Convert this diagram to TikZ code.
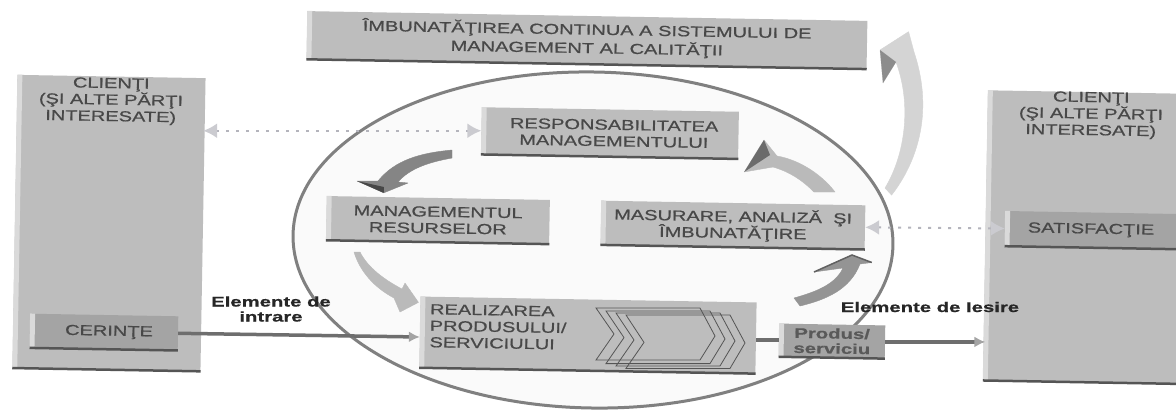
\documentclass[tikz,border=0pt]{standalone}
\usepackage{fontspec}
\setmainfont[FakeStretch=1.38,FakeBold=0.8]{Liberation Sans}
\newfontfamily\lblfont[FakeStretch=1.45,FakeBold=0.6]{Liberation Sans Bold}
\usetikzlibrary{shapes.geometric,arrows.meta}
\definecolor{boxgray}{HTML}{BDBDBD}
\definecolor{boxdark}{HTML}{A4A4A4}
\definecolor{bevellight}{HTML}{DADADA}
\definecolor{edgedark}{HTML}{555555}
\definecolor{txt}{HTML}{484848}
\definecolor{dotcol}{HTML}{B4B4BC}
\colorlet{dottip}{dotcol!70!white}
\tikzset{
  lbl/.style={text=txt,font=\fontsize{14.5}{16.5}\selectfont,align=center,rotate=-1,inner sep=0pt},
  bevel/.style={lbl,rectangle,fill=#1},
  bevel/.default=boxgray,
  biglbl/.style={text=black!85,font=\lblfont\fontsize{14}{15}\selectfont,align=center,inner sep=0pt},
  dotline/.style={draw=dotcol,line width=2pt,dash pattern=on 3pt off 7pt,
    {Latex[length=14pt,width=15pt,color=dottip]}-{Latex[length=14pt,width=15pt,color=dottip]}},
  flowline/.style={draw=edgedark!85!white,line width=3.5pt},
  flowarrow/.style={flowline,-{Latex[length=11pt,width=11pt,color=boxdark]}},
  blockarrow/.style={draw=#1,fill=#1,line width=.4pt,line join=round},
}
\begin{document}
\begin{tikzpicture}[x=1pt,y=1pt]
\useasboundingbox (0,0) rectangle (1176,-410);
\fill[white] (0,0) rectangle (1176,-410);
% large ellipse
\node[ellipse,draw=black!50,line width=3pt,fill=black!2,minimum width=600pt,minimum height=336pt,inner sep=0pt,rotate=-1] (oval) at (593,-240) {};
% outer boxes
\node[bevel,minimum width=560pt,minimum height=48pt,font=\fontsize{14.5}{18.5}\selectfont,text depth=5pt] (improve) at (587,-40) {ÎMBUNATĂŢIREA CONTINUA A SISTEMULUI DE\\MANAGEMENT AL CALITĂŢII};
\node[bevel,minimum width=188pt,minimum height=293pt] (leftc) at (109,-223) {};
\node[lbl] (lefttxt) at (111,-101) {CLIENŢI\\(ŞI ALTE PĂRŢI\\INTERESATE)};
\node[bevel=boxdark,minimum width=148pt,minimum height=34pt] (cer) at (104,-332) {\hspace*{10pt}CERINŢE};
\node[bevel,minimum width=195pt,minimum height=290pt] (rightc) at (1083,-237) {};
\node[lbl] (righttxt) at (1091,-115) {CLIENŢI\\(ŞI ALTE PĂRŢI\\INTERESATE)};
\node[bevel=boxdark,minimum width=172pt,minimum height=35pt] (sat) at (1091,-230) {SATISFACŢIE};
% process boxes
\node[bevel,minimum width=257pt,minimum height=47pt] (resp) at (610,-133) {\hspace*{8pt}RESPONSABILITATEA\\\hspace*{8pt}MANAGEMENTULUI};
\node[bevel,minimum width=223pt,minimum height=44pt] (mgmt) at (438,-220) {MANAGEMENTUL\\RESURSELOR};
\node[bevel,minimum width=264pt,minimum height=44pt] (mas) at (733,-225) {MASURARE, ANALIZĂ\ \ ŞI\\ÎMBUNATĂŢIRE};
\node[bevel,minimum width=336pt,minimum height=71pt] (real) at (588,-335) {};
\node[lbl,align=left,anchor=north west] (realtxt) at (430,-304) {REALIZAREA\\PRODUSULUI/\\SERVICIULUI};
% stacked chevrons
\foreach \dx/\dy/\w in {0/0/104,10/3/104,20/5/104,30/7/104}{
  \draw[edgedark,line width=.8pt]
    (596+\dx,-308-\dy) -- ++(\w,0) -- ++(15,-28) -- ++(-15,-24-\dy*.2) -- ++(-\w,0) -- ++(18,26) -- cycle;
}
\node[bevel=boxdark,minimum width=106pt,minimum height=33pt,text=black!65,font=\lblfont\fontsize{14}{15}\selectfont] (prod) at (832,-341) {Produs/\\serviciu};
% 3D edges of the boxes
\foreach \n in {improve,leftc,cer,rightc,sat,resp,mgmt,mas,real,prod}{
  \draw[bevellight,line width=5pt] ([xshift=2.5pt]\n.south west) -- ([xshift=2.5pt]\n.north west);
  \draw[edgedark,line width=2.5pt] (\n.south west) -- (\n.south east);
}
% connectors
\draw[dotline] (resp.west -| leftc.east) -- (resp.west);
\draw[dotline] (mas.east) -- (sat.west);
\draw[flowarrow] (cer.east) -- (real.west |- 0,-337);
\draw[flowline] (real.east |- prod.west) -- (prod.west);
\draw[flowarrow] (prod.east) -- (rightc.west |- prod.east);
% curved block arrows
\coordinate (aTip) at ([shift={(57,3)}]mgmt.north west);
\draw[blockarrow=black!48] (452,-150) .. controls (420,-153) and (395,-160) .. (378,-181) -- (357,-181) -- (aTip) -- (408,-183) -- (398,-182) .. controls (410,-168) and (430,-162) .. (452,-158) -- cycle;
\fill[black!72] (357,-181) -- (aTip) -- (384,-187) -- cycle;
\coordinate (bTip) at ([shift={(-2,-6)}]real.north west);
\draw[blockarrow=black!27] (354,-252) .. controls (360,-272) and (375,-288) .. (394,-298) -- (400,-312) -- (bTip) -- (405,-283) -- (402,-289) .. controls (385,-280) and (368,-268) .. (360,-252) -- cycle;
\coordinate (cTip) at ([shift={(7,-13)}]mas.south east);
\draw[blockarrow=black!42] (794,-298) .. controls (815,-292) and (835,-285) .. (843,-268) -- (814,-272) -- (852,-255) -- (cTip) -- (860,-264) .. controls (850,-290) and (825,-300) .. (800,-306) -- cycle;
\draw[black!62,line width=1.5pt] (814,-272) -- (852,-255) -- (cTip);
\coordinate (dTip) at ([shift={(6,-13)}]resp.south east);
\draw[blockarrow=black!27] (814,-192) .. controls (802,-180) and (790,-172) .. (773,-167) -- (dTip) -- (764,-140) -- (777,-156) .. controls (800,-160) and (822,-175) .. (835,-192) -- cycle;
\fill[black!58] (dTip) -- (764,-140) -- (770,-155) -- cycle;
\coordinate (eTip) at ([shift={(41,-11)}]improve.north east);
\draw[blockarrow=black!17] ([shift={(26,10)}]mas.north east) .. controls (915,-165) and (935,-115) .. (914,-52) -- (eTip) -- (880,-50) -- (883,-83) -- (896,-62) .. controls (912,-105) and (905,-155) .. (885,-188) -- cycle;
\fill[black!45] (880,-50) -- (896,-62) -- (883,-83) -- cycle;
% free labels
\node[biglbl] (intxt) at (271,-309) {Elemente de\\intrare};
\node[biglbl] (outtxt) at (930,-307) {Elemente de Iesire};
\end{tikzpicture}
\end{document}
